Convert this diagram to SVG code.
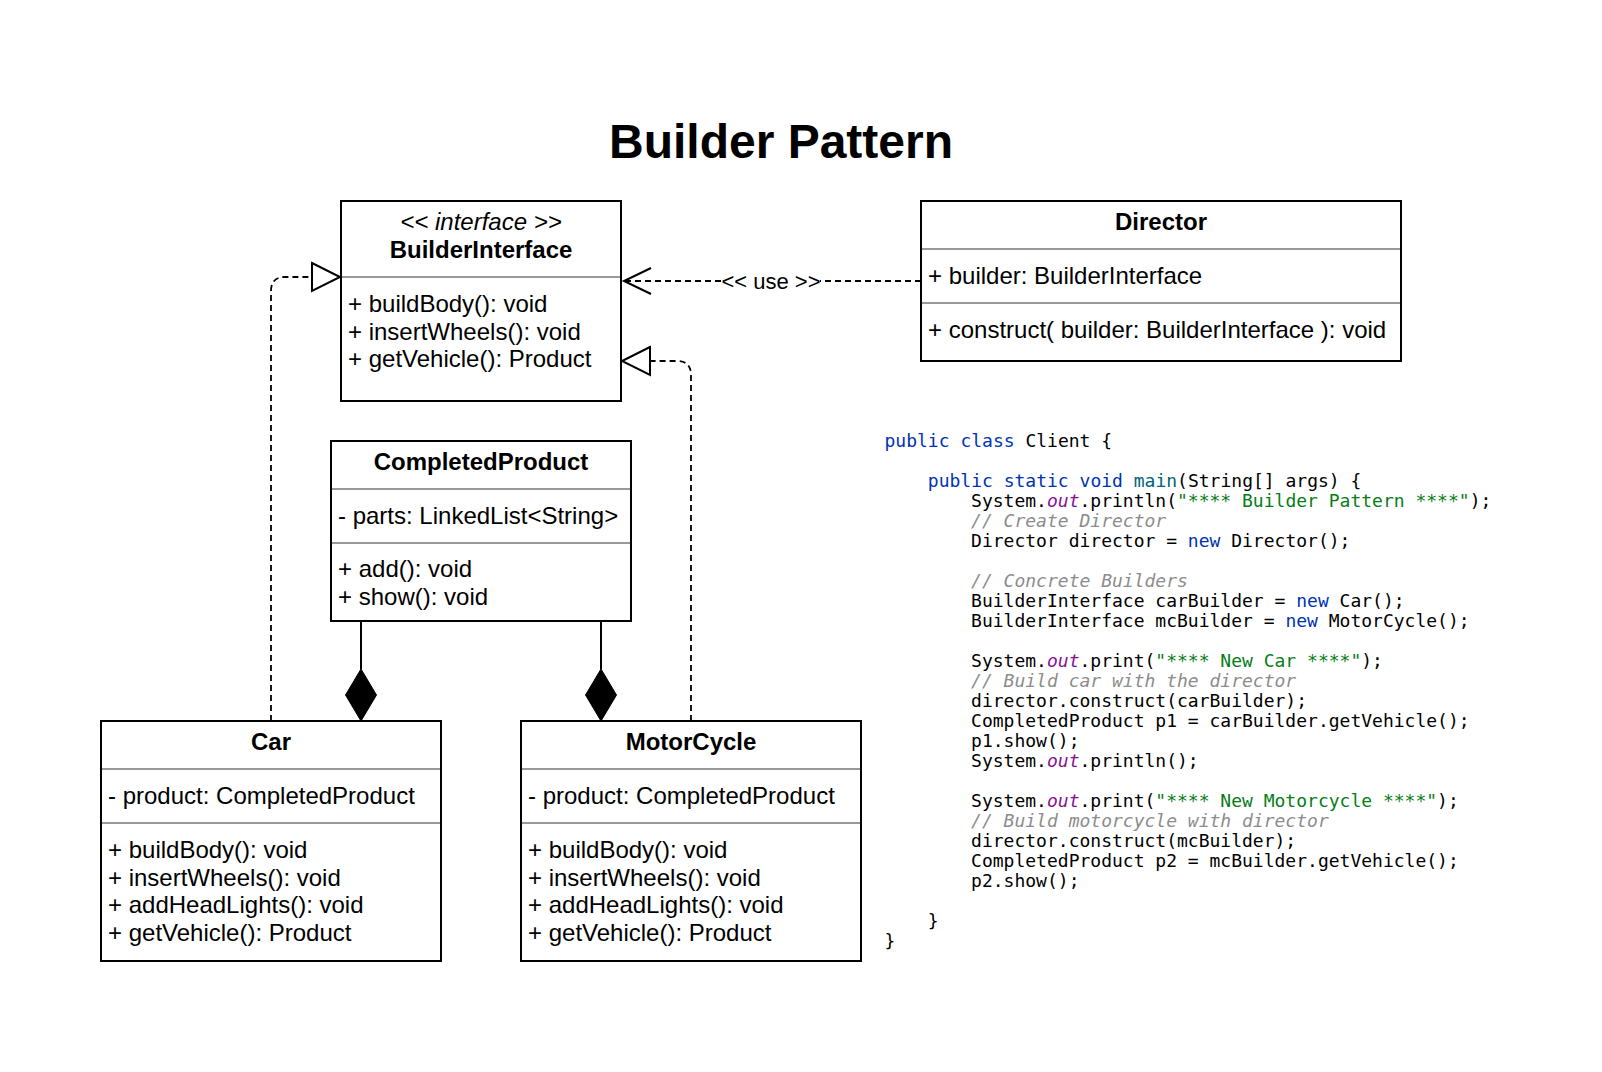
<svg xmlns="http://www.w3.org/2000/svg" width="1602" height="1072" viewBox="0 0 1602 1072">
<style>
.box{fill:#fff;stroke:#000;stroke-width:2}
.sep{stroke:#999;stroke-width:2}
.t{font-family:"Liberation Sans",Arial,sans-serif;font-size:24px;fill:#000}
.b{font-weight:bold}
.c{text-anchor:middle}
.i{font-style:italic}
.dash{fill:none;stroke:#000;stroke-width:1.8;stroke-dasharray:6 4}
.solid{fill:none;stroke:#000;stroke-width:2}
.hollow{fill:#fff;stroke:#000;stroke-width:2}
.fill{fill:#000;stroke:#000;stroke-width:1}
.lbl{font-family:"Liberation Sans",Arial,sans-serif;font-size:22px;fill:#000;text-anchor:middle}
.code{font-family:"DejaVu Sans Mono",monospace;font-size:18px;fill:#000}
.k{fill:#0033b3}
.m{fill:#00627a}
.o{fill:#871094;font-style:italic}
.s{fill:#067d17}
.cm{fill:#8c8c8c;font-style:italic}
</style>
<rect width="1602" height="1072" fill="#fff"/>
<text id="title" class="t b c" x="781" y="158" style="font-size:48px">Builder Pattern</text>

<g id="connectors">
  <line class="dash" x1="921" y1="281" x2="626" y2="281"/>
  <polyline class="solid" points="651,268 624,281 651,294"/>
  <rect x="722" y="270" width="98" height="22" fill="#fff"/>
  <text class="lbl" x="771" y="288.5">&lt;&lt; use &gt;&gt;</text>
  <path class="dash" d="M271 721 V291 Q271 277 285 277 H312"/>
  <polygon class="hollow" points="312,263 340,277 312,291"/>
  <path class="dash" d="M691 721 V375 Q691 361 677 361 H650"/>
  <polygon class="hollow" points="650,347 622,361 650,375"/>
  <line class="solid" x1="361" y1="621" x2="361" y2="669"/>
  <polygon class="fill" points="361,669 376.5,695 361,721 345.5,695"/>
  <line class="solid" x1="601" y1="621" x2="601" y2="669"/>
  <polygon class="fill" points="601,669 616.5,695 601,721 585.5,695"/>
</g>

<g id="builderInterface">
  <rect class="box" x="341" y="201" width="280" height="200"/>
  <text class="t i c" x="481" y="229.5">&lt;&lt; interface &gt;&gt;</text>
  <text class="t b c" x="481" y="257.5">BuilderInterface</text>
  <line class="sep" x1="342" y1="277" x2="620" y2="277"/>
  <text class="t" x="348" y="312">+ buildBody(): void</text>
  <text class="t" x="348" y="339.6">+ insertWheels(): void</text>
  <text class="t" x="348" y="367.2">+ getVehicle(): Product</text>
</g>

<g id="director">
  <rect class="box" x="921" y="201" width="480" height="160"/>
  <text class="t b c" x="1161" y="229.5">Director</text>
  <line class="sep" x1="922" y1="249" x2="1400" y2="249"/>
  <text class="t" x="928" y="283.5">+ builder: BuilderInterface</text>
  <line class="sep" x1="922" y1="303" x2="1400" y2="303"/>
  <text class="t" x="928" y="337.5">+ construct( builder: BuilderInterface ): void</text>
</g>

<g id="completedProduct">
  <rect class="box" x="331" y="441" width="300" height="180"/>
  <text class="t b c" x="481" y="469.5">CompletedProduct</text>
  <line class="sep" x1="332" y1="489" x2="630" y2="489"/>
  <text class="t" x="338" y="524">- parts: LinkedList&lt;String&gt;</text>
  <line class="sep" x1="332" y1="543" x2="630" y2="543"/>
  <text class="t" x="338" y="577">+ add(): void</text>
  <text class="t" x="338" y="604.6">+ show(): void</text>
</g>

<g id="car">
  <rect class="box" x="101" y="721" width="340" height="240"/>
  <text class="t b c" x="271" y="749.5">Car</text>
  <line class="sep" x1="102" y1="769" x2="440" y2="769"/>
  <text class="t" x="108" y="804">- product: CompletedProduct</text>
  <line class="sep" x1="102" y1="823" x2="440" y2="823"/>
  <text class="t" x="108" y="858">+ buildBody(): void</text>
  <text class="t" x="108" y="885.6">+ insertWheels(): void</text>
  <text class="t" x="108" y="913.2">+ addHeadLights(): void</text>
  <text class="t" x="108" y="940.8">+ getVehicle(): Product</text>
</g>

<g id="motorCycle">
  <rect class="box" x="521" y="721" width="340" height="240"/>
  <text class="t b c" x="691" y="749.5">MotorCycle</text>
  <line class="sep" x1="522" y1="769" x2="860" y2="769"/>
  <text class="t" x="528" y="804">- product: CompletedProduct</text>
  <line class="sep" x1="522" y1="823" x2="860" y2="823"/>
  <text class="t" x="528" y="858">+ buildBody(): void</text>
  <text class="t" x="528" y="885.6">+ insertWheels(): void</text>
  <text class="t" x="528" y="913.2">+ addHeadLights(): void</text>
  <text class="t" x="528" y="940.8">+ getVehicle(): Product</text>
</g>

<g id="clientCode" class="code">
  <text x="884.5" y="447"><tspan class="k">public</tspan> <tspan class="k">class</tspan> Client {</text>
  <text x="927.8" y="487"><tspan class="k">public</tspan> <tspan class="k">static</tspan> <tspan class="k">void</tspan> <tspan class="m">main</tspan>(String[] args) {</text>
  <text x="971.1" y="507">System.<tspan class="o">out</tspan>.println(<tspan class="s">"**** Builder Pattern ****"</tspan>);</text>
  <text x="971.1" y="527" class="cm">// Create Director</text>
  <text x="971.1" y="547">Director director = <tspan class="k">new</tspan> Director();</text>
  <text x="971.1" y="587" class="cm">// Concrete Builders</text>
  <text x="971.1" y="607">BuilderInterface carBuilder = <tspan class="k">new</tspan> Car();</text>
  <text x="971.1" y="627">BuilderInterface mcBuilder = <tspan class="k">new</tspan> MotorCycle();</text>
  <text x="971.1" y="667">System.<tspan class="o">out</tspan>.print(<tspan class="s">"**** New Car ****"</tspan>);</text>
  <text x="971.1" y="687" class="cm">// Build car with the director</text>
  <text x="971.1" y="707">director.construct(carBuilder);</text>
  <text x="971.1" y="727">CompletedProduct p1 = carBuilder.getVehicle();</text>
  <text x="971.1" y="747">p1.show();</text>
  <text x="971.1" y="767">System.<tspan class="o">out</tspan>.println();</text>
  <text x="971.1" y="807">System.<tspan class="o">out</tspan>.print(<tspan class="s">"**** New Motorcycle ****"</tspan>);</text>
  <text x="971.1" y="827" class="cm">// Build motorcycle with director</text>
  <text x="971.1" y="847">director.construct(mcBuilder);</text>
  <text x="971.1" y="867">CompletedProduct p2 = mcBuilder.getVehicle();</text>
  <text x="971.1" y="887">p2.show();</text>
  <text x="927.8" y="927">}</text>
  <text x="884.5" y="947">}</text>
</g>
</svg>
